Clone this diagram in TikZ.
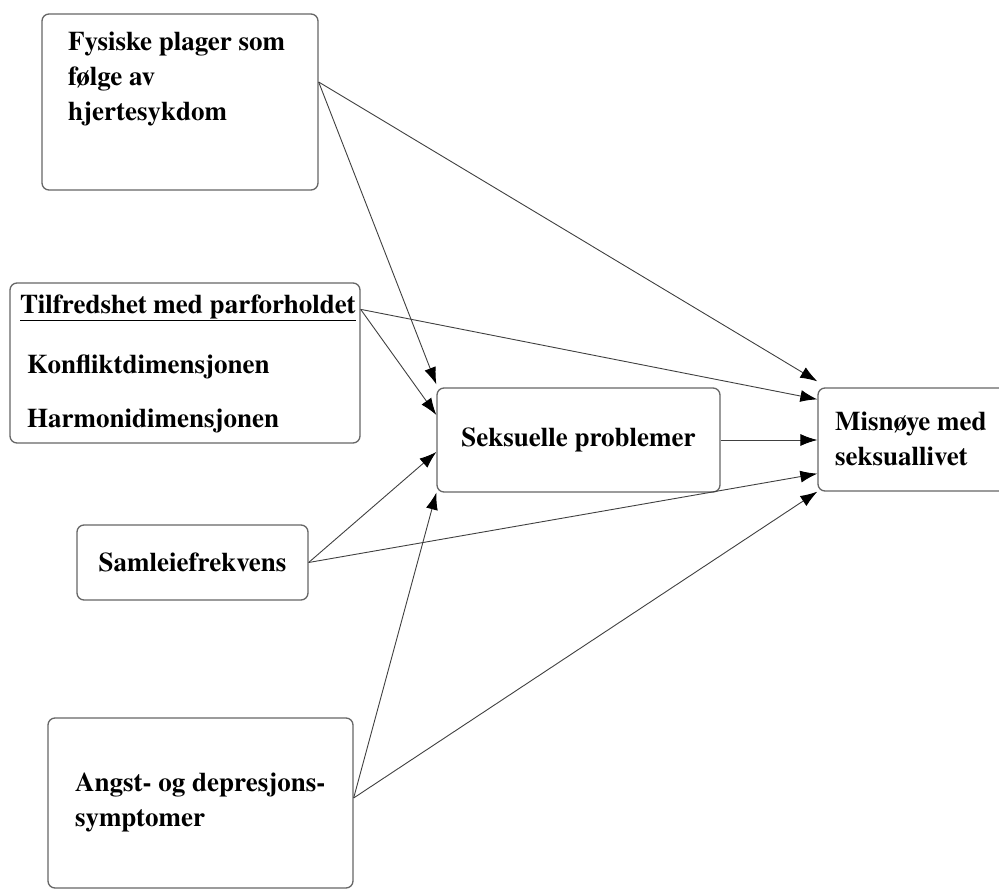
\documentclass[tikz,border=0pt]{standalone}
\usepackage{fontspec}
\setmainfont{texgyretermes}[Extension=.otf, UprightFont=*-regular, BoldFont=*-bold, ItalicFont=*-italic, BoldItalicFont=*-bolditalic]
\usetikzlibrary{arrows.meta}
\tikzset{
  boks/.style={draw=black!60, line width=1.3pt, rounded corners=7pt},
  skrift/.style={font=\fontsize{27}{35}\selectfont\bfseries},
  tekst/.style={skrift, anchor=west, inner sep=0pt, align=left},
  pil/.style={draw=black!75, line width=0.9pt, -{Latex[length=17pt,width=12pt,black]}}
}
\begin{document}
\begin{tikzpicture}[x=1pt,y=-1pt]
  \clip (0,0) rectangle (999,890);
  % boksene
  \node[boks, minimum width=276pt, minimum height=176pt] (fys) at (180,102) {};
  \node[boks, minimum width=350pt, minimum height=160pt] (tilf) at (185,363) {};
  \node[boks, skrift, minimum width=283pt, minimum height=104pt] (sp) at (578.5,440) {Seksuelle problemer};
  \node[boks, minimum width=192pt, minimum height=103pt] (mis) at (914,439.5) {};
  \node[boks, skrift, minimum width=231pt, minimum height=75pt] (sam) at (192.5,562.5) {Samleiefrekvens};
  \node[boks, minimum width=305pt, minimum height=170pt] (angst) at (200.5,803) {};
  % tekstene
  \node[tekst] (fystxt) at (68,79) {Fysiske plager som\\følge av\\hjertesykdom};
  \node[tekst] (tilftxt) at (20,364) {\underline{Tilfredshet med parforholdet}\\[25pt]\hspace*{7pt}Konfliktdimensjonen\\[19pt]\hspace*{7pt}Harmonidimensjonen};
  \node[tekst] (mistxt) at (835,439) {Misnøye med\\seksuallivet};
  \node[tekst] (angsttxt) at (75,802) {Angst- og depresjons-\\symptomer};
  % pilene
  \draw[pil] ([yshift=20pt]fys.east) -- ([yshift=3pt]sp.north west);
  \draw[pil] ([yshift=20pt]fys.east) -- ([yshift=6pt]mis.north west);
  \draw[pil] ([yshift=-27pt]tilf.north east) -- ([yshift=25pt]sp.west);
  \draw[pil] ([yshift=-27pt]tilf.north east) -- ([yshift=-12pt]mis.north west);
  \draw[pil] (sp.east) -- (sp.east -| mis.west);
  \draw[pil] (sam.east) -- ([yshift=-12pt]sp.west);
  \draw[pil] (sam.east) -- ([yshift=18pt]mis.south west);
  \draw[pil] ([yshift=5pt]angst.east) -- (sp.south west);
  \draw[pil] ([yshift=5pt]angst.east) -- (mis.south west);
\end{tikzpicture}
\end{document}
